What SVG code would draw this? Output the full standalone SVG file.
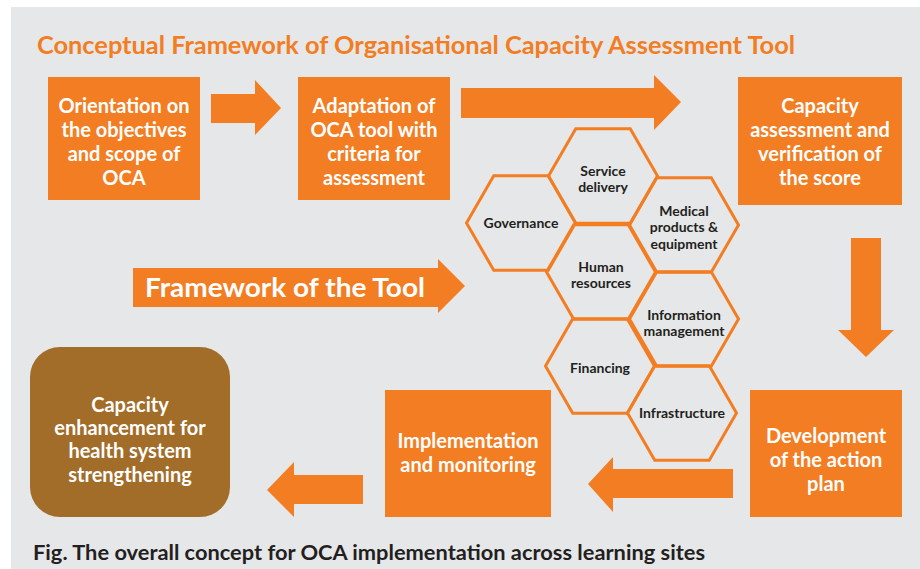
<svg xmlns="http://www.w3.org/2000/svg" width="920" height="569" viewBox="0 0 920 569">
  <style>
    .box { fill: #F37D22; }
    .arrow { fill: #F37D22; }
    .hex { fill: none; stroke: #F37D22; stroke-width: 3; stroke-linejoin: miter; }
    .bt { font-family: Lato, "Open Sans", "Liberation Sans", sans-serif; font-weight: 700; font-size: 20px; fill: #ffffff; text-anchor: middle; }
    .ht { font-family: Lato, "Open Sans", "Liberation Sans", sans-serif; font-weight: 700; font-size: 14px; fill: #231F20; text-anchor: middle; }
    .title { font-family: Lato, "Open Sans", "Liberation Sans", sans-serif; font-weight: 700; font-size: 24px; fill: #F37D22; }
    .cap { font-family: Lato, "Open Sans", "Liberation Sans", sans-serif; font-weight: 700; font-size: 20px; fill: #231F20; }
  </style>
  <defs>
    <!-- flat-topped hexagon, radius 54.5 -->
    <polygon id="hexShape" points="-54.5,0 -27.25,-47.2 27.25,-47.2 54.5,0 27.25,47.2 -27.25,47.2"/>
  </defs>

  <rect x="0" y="0" width="920" height="569" fill="#ffffff"/>
  <rect x="11" y="7" width="909" height="562" fill="#E6E7E8"/>

  <text class="title" x="37" y="54" textLength="758" lengthAdjust="spacingAndGlyphs">Conceptual Framework of Organisational Capacity Assessment Tool</text>

  <!-- connectors -->
  <g id="connectors">
    <polygon class="arrow" points="211,94 255,94 255,80 281,108 255,135 255,123 211,123"/>
    <polygon class="arrow" points="461,88 654,88 654,75 681,102 654,130 654,118 461,118"/>
    <polygon class="arrow" points="851,238 881,238 881,330 894,330 866,357 838,330 851,330"/>
    <polygon class="arrow" points="733,469 613,469 613,457 588,484 613,512 613,498 733,498"/>
    <polygon class="arrow" points="363,475 294,475 294,462 267,490 294,517 294,504 363,504"/>
  </g>

  <g id="framework">
    <polygon class="arrow" points="133,268 438,268 438,259 465,286 438,313 438,307 133,307"/>
    <text class="bt" x="145" y="297" style="font-size:27px;text-anchor:start" textLength="280" lengthAdjust="spacingAndGlyphs">Framework of the Tool</text>
  </g>

  <g id="orientation">
    <rect class="box" x="48" y="77" width="152" height="123"/>
    <text class="bt" x="124" y="113">Orientation on</text>
    <text class="bt" x="124" y="137">the objectives</text>
    <text class="bt" x="124" y="161">and scope of</text>
    <text class="bt" x="124" y="185">OCA</text>
  </g>

  <g id="adaptation">
    <rect class="box" x="298" y="77" width="152" height="123"/>
    <text class="bt" x="374" y="113">Adaptation of</text>
    <text class="bt" x="374" y="137">OCA tool with</text>
    <text class="bt" x="374" y="161">criteria for</text>
    <text class="bt" x="374" y="185">assessment</text>
  </g>

  <g id="assessment">
    <rect class="box" x="738" y="77" width="164" height="128"/>
    <text class="bt" x="820" y="113">Capacity</text>
    <text class="bt" x="820" y="137">assessment and</text>
    <text class="bt" x="820" y="161">verification of</text>
    <text class="bt" x="820" y="185">the score</text>
  </g>

  <g id="action-plan">
    <rect class="box" x="750" y="390" width="152" height="127"/>
    <text class="bt" x="826" y="443">Development</text>
    <text class="bt" x="826" y="467">of the action</text>
    <text class="bt" x="826" y="491">plan</text>
  </g>

  <g id="implementation">
    <rect class="box" x="385" y="390" width="166" height="127"/>
    <text class="bt" x="468" y="448">Implementation</text>
    <text class="bt" x="468" y="472">and monitoring</text>
  </g>

  <g id="enhancement">
    <rect x="30" y="347" width="200" height="170" rx="30" ry="30" fill="#A26C29"/>
    <text class="bt" x="130" y="412">Capacity</text>
    <text class="bt" x="130" y="435">enhancement for</text>
    <text class="bt" x="130" y="458">health system</text>
    <text class="bt" x="130" y="482">strengthening</text>
  </g>

  <!-- honeycomb of assessment domains -->
  <g id="governance">
    <use href="#hexShape" class="hex" x="521" y="223"/>
    <text class="ht" x="521" y="228">Governance</text>
  </g>
  <g id="service-delivery">
    <use href="#hexShape" class="hex" x="603" y="176"/>
    <text class="ht" x="603" y="176">Service</text>
    <text class="ht" x="603" y="192">delivery</text>
  </g>
  <g id="medical-products">
    <use href="#hexShape" class="hex" x="684" y="225"/>
    <text class="ht" x="684" y="216">Medical</text>
    <text class="ht" x="684" y="232">products &amp;</text>
    <text class="ht" x="684" y="249">equipment</text>
  </g>
  <g id="human-resources">
    <use href="#hexShape" class="hex" x="601" y="272"/>
    <text class="ht" x="601" y="272">Human</text>
    <text class="ht" x="601" y="288">resources</text>
  </g>
  <g id="information-management">
    <use href="#hexShape" class="hex" x="684" y="319"/>
    <text class="ht" x="684" y="320">Information</text>
    <text class="ht" x="684" y="336">management</text>
  </g>
  <g id="financing">
    <use href="#hexShape" class="hex" x="600" y="366"/>
    <text class="ht" x="600" y="373">Financing</text>
  </g>
  <g id="infrastructure">
    <use href="#hexShape" class="hex" x="682" y="413"/>
    <text class="ht" x="682" y="418">Infrastructure</text>
  </g>

  <text class="cap" x="33" y="560" textLength="672" lengthAdjust="spacingAndGlyphs">Fig. The overall concept for OCA implementation across learning sites</text>
</svg>
